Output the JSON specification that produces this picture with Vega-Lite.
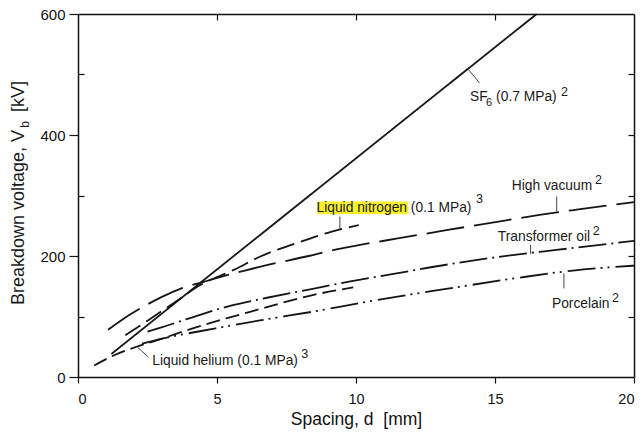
{
  "$schema": "https://vega.github.io/schema/vega-lite/v6.json",
  "width": 556,
  "height": 363,
  "autosize": {"type": "none"},
  "padding": {"left": 78, "top": 14, "right": 8, "bottom": 64},
  "background": "white",
  "config": {
    "font": "Liberation Sans",
    "view": {"stroke": null},
    "axis": {"domainColor": "#111", "domainWidth": 1.5, "tickColor": "#111", "tickWidth": 1.2, "labelColor": "#111", "titleColor": "#111", "grid": false, "labelFont": "Liberation Sans", "titleFont": "Liberation Sans", "titleFontWeight": "normal"}
  },
  "datasets": {
    "curves": [
      {"material": "SF6", "d": 1.2, "v": 38}, {"material": "SF6", "d": 4, "v": 141}, {"material": "SF6", "d": 8, "v": 288}, {"material": "SF6", "d": 12, "v": 435}, {"material": "SF6", "d": 16.5, "v": 600},
      {"material": "Liquid nitrogen", "d": 1.7, "v": 69}, {"material": "Liquid nitrogen", "d": 2.5, "v": 93}, {"material": "Liquid nitrogen", "d": 3.5, "v": 124}, {"material": "Liquid nitrogen", "d": 4.4, "v": 152}, {"material": "Liquid nitrogen", "d": 5.6, "v": 177}, {"material": "Liquid nitrogen", "d": 6.6, "v": 200}, {"material": "Liquid nitrogen", "d": 7.9, "v": 222}, {"material": "Liquid nitrogen", "d": 9.1, "v": 240}, {"material": "Liquid nitrogen", "d": 10.1, "v": 251},
      {"material": "High vacuum", "d": 1.08, "v": 78}, {"material": "High vacuum", "d": 1.9, "v": 104}, {"material": "High vacuum", "d": 2.5, "v": 120}, {"material": "High vacuum", "d": 3, "v": 132}, {"material": "High vacuum", "d": 3.7, "v": 146}, {"material": "High vacuum", "d": 4.5, "v": 157}, {"material": "High vacuum", "d": 5.1, "v": 165}, {"material": "High vacuum", "d": 6, "v": 176}, {"material": "High vacuum", "d": 6.9, "v": 186}, {"material": "High vacuum", "d": 8.3, "v": 200}, {"material": "High vacuum", "d": 9.1, "v": 209}, {"material": "High vacuum", "d": 10.1, "v": 218}, {"material": "High vacuum", "d": 11.5, "v": 229}, {"material": "High vacuum", "d": 13.3, "v": 243}, {"material": "High vacuum", "d": 15.4, "v": 259}, {"material": "High vacuum", "d": 16.6, "v": 268}, {"material": "High vacuum", "d": 18, "v": 277}, {"material": "High vacuum", "d": 20, "v": 289},
      {"material": "Transformer oil", "d": 2.5, "v": 75}, {"material": "Transformer oil", "d": 3, "v": 82}, {"material": "Transformer oil", "d": 4, "v": 97}, {"material": "Transformer oil", "d": 5.5, "v": 118}, {"material": "Transformer oil", "d": 6.8, "v": 131}, {"material": "Transformer oil", "d": 8.35, "v": 145}, {"material": "Transformer oil", "d": 9.8, "v": 158}, {"material": "Transformer oil", "d": 11.3, "v": 170}, {"material": "Transformer oil", "d": 13.3, "v": 186}, {"material": "Transformer oil", "d": 15.7, "v": 202}, {"material": "Transformer oil", "d": 17.2, "v": 210}, {"material": "Transformer oil", "d": 18.7, "v": 218}, {"material": "Transformer oil", "d": 20, "v": 225},
      {"material": "Porcelain", "d": 2.3, "v": 55}, {"material": "Porcelain", "d": 3, "v": 63}, {"material": "Porcelain", "d": 4.9, "v": 80}, {"material": "Porcelain", "d": 6.6, "v": 94}, {"material": "Porcelain", "d": 8.7, "v": 110}, {"material": "Porcelain", "d": 10.1, "v": 122}, {"material": "Porcelain", "d": 11.5, "v": 133}, {"material": "Porcelain", "d": 13.3, "v": 146}, {"material": "Porcelain", "d": 15.7, "v": 163}, {"material": "Porcelain", "d": 17.8, "v": 176}, {"material": "Porcelain", "d": 20, "v": 184},
      {"material": "Liquid helium", "d": 0.58, "v": 19}, {"material": "Liquid helium", "d": 1.3, "v": 36}, {"material": "Liquid helium", "d": 2.1, "v": 50}, {"material": "Liquid helium", "d": 2.8, "v": 60}, {"material": "Liquid helium", "d": 4.3, "v": 83}, {"material": "Liquid helium", "d": 5.5, "v": 99}, {"material": "Liquid helium", "d": 6.6, "v": 113}, {"material": "Liquid helium", "d": 7.3, "v": 122}, {"material": "Liquid helium", "d": 8.4, "v": 135}, {"material": "Liquid helium", "d": 9.9, "v": 148}
    ],
    "labels": [
      {"text": "SF", "d": 14.1, "v": 455.8},
      {"text": "(0.7 MPa)", "d": 15.04, "v": 455.8},
      {"text": "High vacuum", "d": 15.6, "v": 309.5},
      {"text": "Liquid nitrogen (0.1 MPa)", "d": 8.58, "v": 272.5},
      {"text": "Transformer oil", "d": 15.1, "v": 224},
      {"text": "Porcelain", "d": 17.05, "v": 114.4},
      {"text": "Liquid helium (0.1 MPa)", "d": 2.67, "v": 19.5}
    ],
    "sups": [
      {"text": "2", "d": 17.37, "v": 464},
      {"text": "2", "d": 18.6, "v": 319.4},
      {"text": "3", "d": 14.32, "v": 287},
      {"text": "2", "d": 18.52, "v": 235},
      {"text": "2", "d": 19.21, "v": 124.3},
      {"text": "3", "d": 8.03, "v": 32.2}
    ],
    "subs": [
      {"text": "6", "d": 14.68, "v": 447.5}
    ],
    "leaders": [
      {"d": 14.04, "v": 508.4, "d2": 14.44, "v2": 486.3},
      {"d": 17.22, "v": 298.4, "d2": 17.22, "v2": 273.5},
      {"d": 9.42, "v": 265.2, "d2": 9.42, "v2": 244.3},
      {"d": 16.28, "v": 218.3, "d2": 16.28, "v2": 203.4},
      {"d": 17.48, "v": 171.4, "d2": 17.48, "v2": 146.5},
      {"d": 2.13, "v": 49.7, "d2": 2.53, "v2": 33}
    ],
    "highlight": [
      {"d": 8.6, "d2": 11.88, "v": 269.2, "v2": 290}
    ],
    "ytitle": [
      {"text": "Breakdown voltage, V", "d": -1.94, "v": 119},
      {"text": "[kV]", "d": -1.94, "v": 438}
    ],
    "ytitlesub": [
      {"text": "b", "d": -1.755, "v": 412}
    ]
  },
  "resolve": {"axis": {"x": "independent", "y": "independent"}},
  "layer": [
    {
      "data": {"name": "highlight"},
      "mark": {"type": "rect", "color": "#f7f02a"},
      "encoding": {
        "x": {"field": "d", "type": "quantitative", "scale": {"domain": [0, 20], "nice": false}, "axis": null},
        "x2": {"field": "d2"},
        "y": {"field": "v", "type": "quantitative", "scale": {"domain": [0, 600], "nice": false}, "axis": null},
        "y2": {"field": "v2"}
      }
    },
    {
      "data": {"name": "curves"},
      "mark": {"type": "line", "interpolate": "monotone", "color": "#151515", "strokeWidth": 1.8},
      "encoding": {
        "x": {"field": "d", "type": "quantitative", "scale": {"domain": [0, 20], "nice": false},
          "axis": {"orient": "bottom", "values": [0, 5, 10, 15, 20], "tickSize": 6, "labelFontSize": 14.5, "labelPadding": 9, "title": "Spacing, d\u00a0 [mm]", "titleFontSize": 17.5, "titlePadding": 5}},
        "y": {"field": "v", "type": "quantitative", "scale": {"domain": [0, 600], "nice": false},
          "axis": {"orient": "left", "values": [0, 100, 200, 300, 400, 500, 600], "labelExpr": "datum.value % 200 === 0 ? datum.label : ''", "tickSize": {"condition": {"test": "datum.value % 200 === 0", "value": 9}, "value": -6}, "labelFontSize": 15, "labelPadding": 4, "title": null}},
        "strokeDash": {"field": "material", "type": "nominal", "legend": null,
          "scale": {"domain": ["SF6", "Liquid nitrogen", "High vacuum", "Transformer oil", "Porcelain", "Liquid helium"],
            "range": [[1, 0], [18, 7], [38, 10], [28, 5, 2, 5], [28, 5, 2, 5, 2, 6], [14, 6]]}},
        "detail": {"field": "material"},
        "order": {"field": "d", "type": "quantitative"}
      }
    },
    {
      "data": {"name": "leaders"},
      "mark": {"type": "rule", "color": "#444", "strokeWidth": 1},
      "encoding": {
        "x": {"field": "d", "type": "quantitative", "scale": {"domain": [0, 20], "nice": false},
          "axis": {"orient": "top", "values": [5, 10, 15], "labels": false, "tickSize": -6, "title": null}},
        "x2": {"field": "d2"},
        "y": {"field": "v", "type": "quantitative", "scale": {"domain": [0, 600], "nice": false},
          "axis": {"orient": "right", "values": [100, 200, 300, 400, 500], "labels": false, "tickSize": -6, "title": null}},
        "y2": {"field": "v2"}
      }
    },
    {
      "data": {"name": "labels"},
      "mark": {"type": "text", "align": "left", "baseline": "alphabetic", "fontSize": 13.8, "color": "#1a1a1a"},
      "encoding": {
        "x": {"field": "d", "type": "quantitative", "axis": null},
        "y": {"field": "v", "type": "quantitative", "axis": null},
        "text": {"field": "text"}
      }
    },
    {
      "data": {"name": "sups"},
      "mark": {"type": "text", "align": "left", "baseline": "alphabetic", "fontSize": 12.5, "color": "#1a1a1a"},
      "encoding": {
        "x": {"field": "d", "type": "quantitative", "axis": null},
        "y": {"field": "v", "type": "quantitative", "axis": null},
        "text": {"field": "text"}
      }
    },
    {
      "data": {"name": "subs"},
      "mark": {"type": "text", "align": "left", "baseline": "alphabetic", "fontSize": 11, "color": "#1a1a1a"},
      "encoding": {
        "x": {"field": "d", "type": "quantitative", "axis": null},
        "y": {"field": "v", "type": "quantitative", "axis": null},
        "text": {"field": "text"}
      }
    },
    {
      "data": {"name": "ytitle"},
      "mark": {"type": "text", "align": "left", "baseline": "alphabetic", "angle": 270, "fontSize": 18, "color": "#1a1a1a"},
      "encoding": {
        "x": {"field": "d", "type": "quantitative", "axis": null},
        "y": {"field": "v", "type": "quantitative", "axis": null},
        "text": {"field": "text"}
      }
    },
    {
      "data": {"name": "ytitlesub"},
      "mark": {"type": "text", "align": "left", "baseline": "alphabetic", "angle": 270, "fontSize": 12, "color": "#1a1a1a"},
      "encoding": {
        "x": {"field": "d", "type": "quantitative", "axis": null},
        "y": {"field": "v", "type": "quantitative", "axis": null},
        "text": {"field": "text"}
      }
    }
  ]
}
